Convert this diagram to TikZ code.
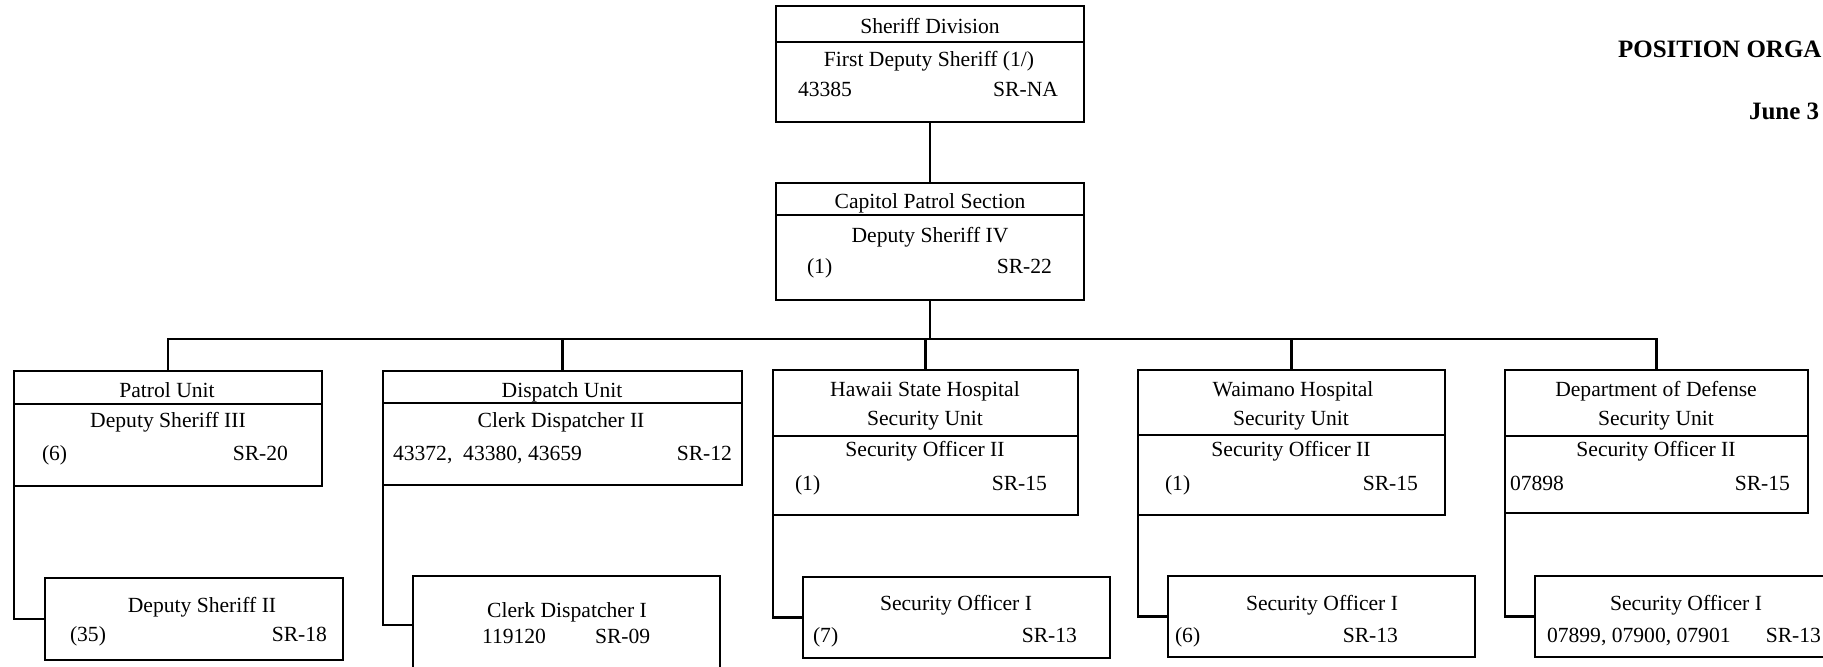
\documentclass[tikz,border=0pt]{standalone}
\usepackage{fontspec}
\setmainfont{Liberation Serif}
\begin{document}
\begin{tikzpicture}[x=0.5pt,y=-0.5pt,
  box/.style={draw, line width=1.4pt, rectangle, inner sep=0pt, outer sep=0pt},
  sepline/.style={line width=1.4pt},
  link/.style={line width=1.4pt},
  txt/.style={inner sep=0pt, outer sep=0pt, font=\fontsize{10.8}{12}\selectfont},
  ttl/.style={inner sep=0pt, outer sep=0pt, font=\fontsize{12.5}{14}\selectfont\bfseries}]
\newcommand\mybox[5]{\node[box, minimum width={(#4-#2)*0.5pt}, minimum height={(#5-#3)*0.5pt}] (#1) at ({(#2+#4)/2},{(#3+#5)/2}) {};}
\newcommand\mysep[2]{\draw[sepline] (#1.west |- 0,#2) -- (#1.east |- 0,#2);}
\newcommand\myC[3]{\node[txt, anchor=base] (#1) at (#2) {#3};}
\newcommand\myL[3]{\node[txt, anchor=base west] (#1) at (#2) {#3};}
\newcommand\myR[3]{\node[txt, anchor=base east] (#1) at (#2) {#3};}
\useasboundingbox (0,0) rectangle (1823,666);
\fill[white] (0,0) rectangle (1823,666);

% boxes
\mybox{A}{776}{6}{1084}{122}
\mysep{A}{42}
\mybox{B}{776}{183}{1084}{300}
\mysep{B}{215}
\mybox{P}{14}{371}{322}{486}
\mysep{P}{404}
\mybox{PS}{45}{578}{343}{660}
\mybox{D}{383}{371}{742}{485}
\mysep{D}{403}
\mybox{DS}{413}{576}{720}{674}
\mybox{H}{773}{370}{1078}{515}
\mysep{H}{436}
\mybox{HS}{803}{577}{1110}{658}
\mybox{W}{1138}{370}{1445}{515}
\mysep{W}{435}
\mybox{WS}{1168}{576}{1475}{657}
\mybox{F}{1505}{370}{1808}{513}
\mysep{F}{436}
\mybox{FS}{1535}{576}{1840}{657}

% connectors
\coordinate (bus) at (930,339);
\draw[link] (A.south) -- (B.north);
\draw[link] (B.south) -- (bus);
\draw[link] (P.north) |- (bus) -| (F.north);
\draw[link] (D.north) -- (D.north |- bus);
\draw[link] (H.north) -- (H.north |- bus);
\draw[link] (W.north) -- (W.north |- bus);
\draw[link] (P.south west) |- (PS.west);
\draw[link] (D.south west) |- (DS.west);
\draw[link] (H.south west) |- (HS.west);
\draw[link] (W.south west) |- (WS.west);
\draw[link] (F.south west) |- (FS.west);

% texts
\myC{a1}{930,33}{Sheriff Division}
\myC{a2}{929,66}{First Deputy Sheriff (1/)}
\myL{a3}{798,96}{43385}
\myR{a4}{1058,96}{SR-NA}

\myC{b1}{930,208}{Capitol Patrol Section}
\myC{b2}{930,242}{Deputy Sheriff IV}
\myL{b3}{807,273}{(1)}
\myR{b4}{1052,273}{SR-22}

\myC{p1}{167,397}{Patrol Unit}
\myC{p2}{168,427}{Deputy Sheriff III}
\myL{p3}{42,460}{(6)}
\myR{p4}{288,460}{SR-20}
\myC{ps1}{202,612}{Deputy Sheriff II}
\myL{ps2}{70,641}{(35)}
\myR{ps3}{327,641}{SR-18}

\myC{d1}{562,397}{Dispatch Unit}
\myC{d2}{561,427}{Clerk Dispatcher II}
\myL{d3}{393,460}{43372,~ 43380, 43659}
\myR{d4}{732,460}{SR-12}
\myC{ds1}{567,617}{Clerk Dispatcher I}
\myL{ds2}{482,643}{119120}
\myL{ds3}{595,643}{SR-09}

\myC{h1}{925,396}{Hawaii State Hospital}
\myC{h2}{925,425}{Security Unit}
\myC{h3}{925,456}{Security Officer II}
\myL{h4}{795,490}{(1)}
\myR{h5}{1047,490}{SR-15}
\myC{hs1}{956,610}{Security Officer I}
\myL{hs2}{813,642}{(7)}
\myR{hs3}{1077,642}{SR-13}

\myC{w1}{1293,396}{Waimano Hospital}
\myC{w2}{1291,425}{Security Unit}
\myC{w3}{1291,456}{Security Officer II}
\myL{w4}{1165,490}{(1)}
\myR{w5}{1418,490}{SR-15}
\myC{ws1}{1322,610}{Security Officer I}
\myL{ws2}{1175,642}{(6)}
\myR{ws3}{1398,642}{SR-13}

\myC{f1}{1656,396}{Department of Defense}
\myC{f2}{1656,425}{Security Unit}
\myC{f3}{1656,456}{Security Officer II}
\myL{f4}{1510,490}{07898}
\myR{f5}{1790,490}{SR-15}
\myC{fs1}{1686,610}{Security Officer I}
\myL{fs2}{1547,642}{07899, 07900, 07901}
\myR{fs3}{1821,642}{SR-13}

% title
\node[ttl, anchor=base west] (title) at (1618,57) {POSITION ORGA};
\node[ttl, anchor=base west] (date) at (1749,119) {June 3};
\end{tikzpicture}
\end{document}
